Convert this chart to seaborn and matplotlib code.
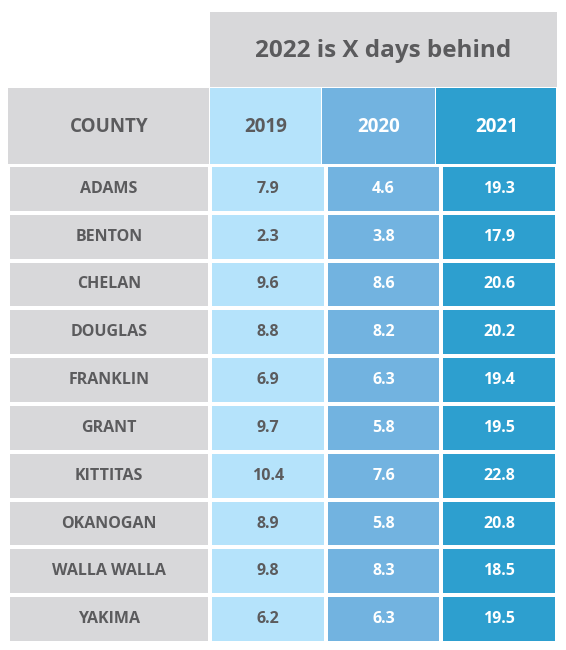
import numpy as np
import pandas as pd
import matplotlib
matplotlib.use("Agg")
import matplotlib.pyplot as plt
from matplotlib.colors import ListedColormap
from matplotlib.patches import Rectangle
import seaborn as sns

counties = ["ADAMS", "BENTON", "CHELAN", "DOUGLAS", "FRANKLIN", "GRANT",
            "KITTITAS", "OKANOGAN", "WALLA WALLA", "YAKIMA"]
years = ["2019", "2020", "2021"]
v2019 = [7.9, 2.3, 9.6, 8.8, 6.9, 9.7, 10.4, 8.9, 9.8, 6.2]
v2020 = [4.6, 3.8, 8.6, 8.2, 6.3, 5.8, 7.6, 5.8, 8.3, 6.3]
v2021 = [19.3, 17.9, 20.6, 20.2, 19.4, 19.5, 22.8, 20.8, 18.5, 19.5]
title = "2022 is X days behind"

gray = "#d8d8da"
text_gray = "#5b5b5d"
col_colors = ["#b5e3fb", "#72b3e0", "#2d9fcf"]
font = "Open Sans"

sns.set_theme(style="white")
plt.rcParams["font.family"] = [font, "DejaVu Sans"]

W, H = 566, 650
fig = plt.figure(figsize=(W / 100, H / 100), dpi=100)
fig.patch.set_facecolor("white")

def fig_ax(x0, y0, x1, y1):
    return fig.add_axes([x0 / W, 1 - y1 / H, (x1 - x0) / W, (y1 - y0) / H])

# value columns
df = pd.DataFrame({"2019": v2019, "2020": v2020, "2021": v2021}, index=counties)
idx = np.tile(np.arange(3), (len(counties), 1))
ax = fig_ax(210, 165, 557, 643)
sns.heatmap(idx, ax=ax, cmap=ListedColormap(col_colors), cbar=False,
            linewidths=1.5, linecolor="white", annot=False, vmin=-0.5, vmax=2.5)
for i in range(len(counties)):
    for j, y in enumerate(years):
        ax.text(j + 0.5, i + 0.5, f"{df[y].iloc[i]:.1f}", ha="center", va="center",
                fontsize=11.5, fontweight="bold",
                color=text_gray if j == 0 else "white")
ax.set_xticks([]); ax.set_yticks([])

# county column
axc = fig_ax(8, 165, 210, 643)
sns.heatmap(np.zeros((len(counties), 1)), ax=axc, cmap=ListedColormap([gray]),
            cbar=False, linewidths=1.5, linecolor="white",
            annot=np.array(counties).reshape(-1, 1), fmt="",
            annot_kws={"fontsize": 11.5, "fontweight": "bold", "color": text_gray})
axc.set_xticks([]); axc.set_yticks([])

# headers
axh = fig_ax(0, 0, W, H)
axh.set_xlim(0, W); axh.set_ylim(H, 0); axh.axis("off")
axh.patch.set_alpha(0)
axh.add_patch(Rectangle((210, 12), 347, 75, color=gray, lw=0))
axh.text(383, 51, title, ha="center", va="center", fontsize=17.5,
         fontweight="bold", color=text_gray)
xs = [8, 210, 322, 436, 557]
hcols = [gray] + col_colors
hlabels = ["COUNTY"] + years
for k in range(4):
    axh.add_patch(Rectangle((xs[k], 88), xs[k + 1] - xs[k] - 1.5, 76, color=hcols[k], lw=0))
    axh.text((xs[k] + xs[k + 1]) / 2, 127, hlabels[k], ha="center", va="center",
             fontsize=13.5, fontweight="bold",
             color=text_gray if k < 2 else "white")

fig.savefig("out.png", dpi=100)
